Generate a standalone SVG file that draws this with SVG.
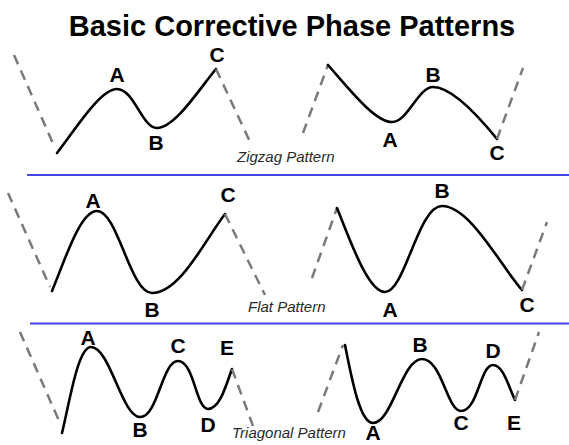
<svg xmlns="http://www.w3.org/2000/svg" width="569" height="445" viewBox="0 0 569 445">
<style>
.title{font-family:"Liberation Sans",Arial,sans-serif;font-weight:bold;font-size:29px;fill:#000}
.lbl{font-family:"Liberation Sans",Arial,sans-serif;font-weight:bold;font-size:21px;fill:#000;text-anchor:middle}
.cap{font-family:"Liberation Sans",Arial,sans-serif;font-style:italic;font-size:15px;fill:#2a2a2a}
.wave{fill:none;stroke:#000;stroke-width:2.6;stroke-linecap:round;stroke-linejoin:round}
.dash{fill:none;stroke:#7a7a7a;stroke-width:2.5;stroke-dasharray:10 7}
.sep{stroke:#4646e6;stroke-width:1.8}
</style>
<rect width="569" height="445" fill="#fff"/>
<text class="title" x="292" y="36" text-anchor="middle">Basic Corrective Phase Patterns</text>
<g id="separators">
<line class="sep" x1="27" y1="175" x2="569" y2="175"/>
<line class="sep" x1="30" y1="323.5" x2="569" y2="323.5"/>
</g>
<g id="zigzag-left">
<path class="dash" d="M14,55 L55,148"/>
<path class="wave" d="M57,153 C75,130 100,89 117,89 C134,89 142,128 157,128 C175,128 200,88 216,69"/>
<path class="dash" d="M216,69 L252,146"/>
<text class="lbl" x="117" y="82">A</text>
<text class="lbl" x="156" y="150">B</text>
<text class="lbl" x="217" y="62">C</text>
</g>
<g id="zigzag-right">
<path class="dash" d="M303,133 L328,65"/>
<path class="wave" d="M328,65 C350,90 375,122 392,122 C408,122 418,87 433,87 C452,87 480,118 497,139"/>
<path class="dash" d="M497,139 L523,68"/>
<text class="lbl" x="433" y="82">B</text>
<text class="lbl" x="390" y="147">A</text>
<text class="lbl" x="497" y="160">C</text>
</g>
<text class="cap" x="237" y="162">Zigzag Pattern</text>
<g id="flat-left">
<path class="dash" d="M8,193 L50,287"/>
<path class="wave" d="M52,291 C65,260 80,211 97,211 C118,211 130,293 152,293 C180,293 205,240 225,214"/>
<path class="dash" d="M225,214 L265,295"/>
<text class="lbl" x="93" y="208">A</text>
<text class="lbl" x="152" y="317">B</text>
<text class="lbl" x="228" y="202">C</text>
</g>
<g id="flat-right">
<path class="dash" d="M312,278 L337,208"/>
<path class="wave" d="M337,208 C350,240 368,292 385,292 C405,292 418,206 442,206 C470,206 500,265 522,290"/>
<path class="dash" d="M522,290 L547,222"/>
<text class="lbl" x="442" y="198">B</text>
<text class="lbl" x="390" y="317">A</text>
<text class="lbl" x="527" y="312">C</text>
</g>
<text class="cap" x="248" y="312">Flat Pattern</text>
<g id="triagonal-left">
<path class="dash" d="M20,332 L60,423"/>
<path class="wave" d="M62,433 C70,400 78,347 91,347 C110,347 122,417 140,417 C158,417 162,361 178,361 C194,361 196,409 208,409 C220,409 226,385 232,369"/>
<path class="dash" d="M232,369 L253,426"/>
<text class="lbl" x="88" y="345">A</text>
<text class="lbl" x="140" y="437">B</text>
<text class="lbl" x="178" y="353">C</text>
<text class="lbl" x="208" y="432">D</text>
<text class="lbl" x="227" y="355">E</text>
</g>
<g id="triagonal-right">
<path class="dash" d="M318,412 L343,345"/>
<path class="wave" d="M345,345 C352,380 360,423 373,423 C392,423 402,359 422,359 C442,359 447,411 461,411 C478,411 480,365 493,365 C503,365 508,385 515,400"/>
<path class="dash" d="M515,400 L539,332"/>
<text class="lbl" x="420" y="352">B</text>
<text class="lbl" x="493" y="358">D</text>
<text class="lbl" x="461" y="430">C</text>
<text class="lbl" x="514" y="430">E</text>
<text class="lbl" x="373" y="440">A</text>
</g>
<text class="cap" x="232" y="438">Triagonal Pattern</text>
</svg>
